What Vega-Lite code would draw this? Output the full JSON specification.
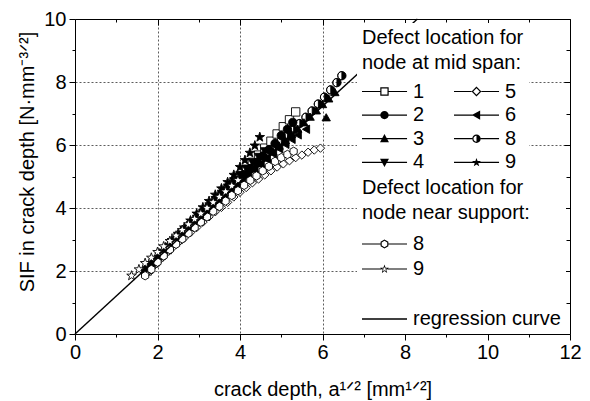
{
  "$schema": "https://vega.github.io/schema/vega-lite/v6.json",
  "width": 495,
  "height": 315,
  "autosize": {"type": "none"},
  "padding": {"left": 75, "top": 19, "right": 20, "bottom": 67},
  "background": "white",
  "config": {
    "font": "Liberation Sans",
    "view": {"stroke": null},
    "axis": {"labelFont": "Liberation Sans", "titleFont": "Liberation Sans", "domainColor": "black", "domainWidth": 1, "tickColor": "black", "tickWidth": 1}
  },
  "datasets": {
    "reg": [{"x": 0, "y": 0}, {"x": 8.3, "y": 10}],
    "sif": [
      {"s":"m1","x":1.75,"y":2.0},{"s":"m1","x":1.9,"y":2.25},{"s":"m1","x":2.05,"y":2.45},{"s":"m1","x":2.2,"y":2.65},{"s":"m1","x":2.35,"y":2.85},{"s":"m1","x":2.5,"y":3.0},{"s":"m1","x":2.65,"y":3.2},{"s":"m1","x":2.8,"y":3.4},{"s":"m1","x":2.95,"y":3.6},{"s":"m1","x":3.1,"y":3.8},{"s":"m1","x":3.25,"y":3.98},{"s":"m1","x":3.4,"y":4.18},{"s":"m1","x":3.55,"y":4.38},{"s":"m1","x":3.7,"y":4.58},{"s":"m1","x":3.85,"y":4.8},{"s":"m1","x":4.0,"y":5.0},{"s":"m1","x":4.15,"y":5.2},{"s":"m1","x":4.3,"y":5.45},{"s":"m1","x":4.45,"y":5.68},{"s":"m1","x":4.6,"y":5.9},{"s":"m1","x":4.75,"y":6.12},{"s":"m1","x":4.9,"y":6.35},{"s":"m1","x":5.05,"y":6.58},{"s":"m1","x":5.2,"y":6.8},{"s":"m1","x":5.35,"y":7.05},
      {"s":"m2","x":1.7,"y":1.95},{"s":"m2","x":1.85,"y":2.2},{"s":"m2","x":2.0,"y":2.4},{"s":"m2","x":2.15,"y":2.6},{"s":"m2","x":2.3,"y":2.78},{"s":"m2","x":2.45,"y":2.98},{"s":"m2","x":2.6,"y":3.15},{"s":"m2","x":2.75,"y":3.35},{"s":"m2","x":2.9,"y":3.52},{"s":"m2","x":3.05,"y":3.72},{"s":"m2","x":3.2,"y":3.9},{"s":"m2","x":3.35,"y":4.08},{"s":"m2","x":3.5,"y":4.28},{"s":"m2","x":3.65,"y":4.45},{"s":"m2","x":3.8,"y":4.65},{"s":"m2","x":3.95,"y":4.85},{"s":"m2","x":4.1,"y":5.05},{"s":"m2","x":4.25,"y":5.25},{"s":"m2","x":4.4,"y":5.45},{"s":"m2","x":4.55,"y":5.65},{"s":"m2","x":4.7,"y":5.85},{"s":"m2","x":4.85,"y":6.05},{"s":"m2","x":5.0,"y":6.3},{"s":"m2","x":5.15,"y":6.5},{"s":"m2","x":5.28,"y":6.72},
      {"s":"m3","x":1.8,"y":2.1},{"s":"m3","x":1.95,"y":2.3},{"s":"m3","x":2.1,"y":2.5},{"s":"m3","x":2.25,"y":2.7},{"s":"m3","x":2.4,"y":2.88},{"s":"m3","x":2.55,"y":3.05},{"s":"m3","x":2.7,"y":3.25},{"s":"m3","x":2.85,"y":3.42},{"s":"m3","x":3.0,"y":3.6},{"s":"m3","x":3.15,"y":3.78},{"s":"m3","x":3.3,"y":3.95},{"s":"m3","x":3.45,"y":4.15},{"s":"m3","x":3.6,"y":4.32},{"s":"m3","x":3.75,"y":4.5},{"s":"m3","x":3.9,"y":4.7},{"s":"m3","x":4.05,"y":4.88},{"s":"m3","x":4.2,"y":5.05},{"s":"m3","x":4.35,"y":5.25},{"s":"m3","x":4.5,"y":5.42},{"s":"m3","x":4.65,"y":5.6},{"s":"m3","x":4.8,"y":5.8},{"s":"m3","x":4.95,"y":5.98},{"s":"m3","x":5.1,"y":6.15},{"s":"m3","x":5.25,"y":6.35},{"s":"m3","x":5.4,"y":6.52},{"s":"m3","x":5.55,"y":6.72},{"s":"m3","x":5.7,"y":6.9},{"s":"m3","x":5.85,"y":7.1},{"s":"m3","x":6.0,"y":7.3},{"s":"m3","x":6.15,"y":7.48},{"s":"m3","x":6.3,"y":7.68},{"s":"m3","x":6.09,"y":6.88},
      {"s":"m4","x":1.75,"y":2.05},{"s":"m4","x":1.9,"y":2.28},{"s":"m4","x":2.05,"y":2.48},{"s":"m4","x":2.2,"y":2.7},{"s":"m4","x":2.35,"y":2.9},{"s":"m4","x":2.5,"y":3.08},{"s":"m4","x":2.65,"y":3.28},{"s":"m4","x":2.8,"y":3.46},{"s":"m4","x":2.95,"y":3.66},{"s":"m4","x":3.1,"y":3.85},{"s":"m4","x":3.25,"y":4.05},{"s":"m4","x":3.4,"y":4.25},{"s":"m4","x":3.55,"y":4.45},{"s":"m4","x":3.7,"y":4.65},{"s":"m4","x":3.85,"y":4.85},{"s":"m4","x":4.0,"y":5.05},{"s":"m4","x":4.15,"y":5.25},{"s":"m4","x":4.3,"y":5.45},{"s":"m4","x":4.45,"y":5.62},{"s":"m4","x":4.6,"y":5.8},
      {"s":"m5","x":1.75,"y":1.95},{"s":"m5","x":1.9,"y":2.15},{"s":"m5","x":2.05,"y":2.35},{"s":"m5","x":2.2,"y":2.55},{"s":"m5","x":2.35,"y":2.72},{"s":"m5","x":2.5,"y":2.9},{"s":"m5","x":2.65,"y":3.05},{"s":"m5","x":2.8,"y":3.22},{"s":"m5","x":2.95,"y":3.38},{"s":"m5","x":3.1,"y":3.55},{"s":"m5","x":3.25,"y":3.72},{"s":"m5","x":3.4,"y":3.88},{"s":"m5","x":3.55,"y":4.02},{"s":"m5","x":3.7,"y":4.18},{"s":"m5","x":3.85,"y":4.35},{"s":"m5","x":4.0,"y":4.5},{"s":"m5","x":4.15,"y":4.65},{"s":"m5","x":4.3,"y":4.8},{"s":"m5","x":4.45,"y":4.92},{"s":"m5","x":4.6,"y":5.05},{"s":"m5","x":4.75,"y":5.18},{"s":"m5","x":4.9,"y":5.3},{"s":"m5","x":5.05,"y":5.4},{"s":"m5","x":5.2,"y":5.5},{"s":"m5","x":5.35,"y":5.6},{"s":"m5","x":5.5,"y":5.68},{"s":"m5","x":5.65,"y":5.77},{"s":"m5","x":5.8,"y":5.84},{"s":"m5","x":5.95,"y":5.9},
      {"s":"m6","x":1.8,"y":2.05},{"s":"m6","x":1.95,"y":2.28},{"s":"m6","x":2.1,"y":2.5},{"s":"m6","x":2.25,"y":2.68},{"s":"m6","x":2.4,"y":2.88},{"s":"m6","x":2.55,"y":3.05},{"s":"m6","x":2.7,"y":3.25},{"s":"m6","x":2.85,"y":3.42},{"s":"m6","x":3.0,"y":3.6},{"s":"m6","x":3.15,"y":3.78},{"s":"m6","x":3.3,"y":3.98},{"s":"m6","x":3.45,"y":4.15},{"s":"m6","x":3.6,"y":4.35},{"s":"m6","x":3.75,"y":4.52},{"s":"m6","x":3.9,"y":4.7},{"s":"m6","x":4.05,"y":4.88},{"s":"m6","x":4.2,"y":5.05},{"s":"m6","x":4.35,"y":5.22},{"s":"m6","x":4.5,"y":5.4},{"s":"m6","x":4.65,"y":5.55},{"s":"m6","x":4.8,"y":5.72},{"s":"m6","x":4.95,"y":5.88},{"s":"m6","x":5.1,"y":6.02},{"s":"m6","x":5.25,"y":6.18},{"s":"m6","x":5.4,"y":6.32},{"s":"m6","x":5.6,"y":6.5},
      {"s":"m8","x":1.85,"y":2.15},{"s":"m8","x":2.0,"y":2.38},{"s":"m8","x":2.15,"y":2.58},{"s":"m8","x":2.3,"y":2.78},{"s":"m8","x":2.45,"y":2.98},{"s":"m8","x":2.6,"y":3.15},{"s":"m8","x":2.75,"y":3.35},{"s":"m8","x":2.9,"y":3.55},{"s":"m8","x":3.05,"y":3.72},{"s":"m8","x":3.2,"y":3.92},{"s":"m8","x":3.35,"y":4.1},{"s":"m8","x":3.5,"y":4.3},{"s":"m8","x":3.65,"y":4.48},{"s":"m8","x":3.8,"y":4.68},{"s":"m8","x":3.95,"y":4.88},{"s":"m8","x":4.1,"y":5.05},{"s":"m8","x":4.25,"y":5.25},{"s":"m8","x":4.4,"y":5.42},{"s":"m8","x":4.55,"y":5.6},{"s":"m8","x":4.7,"y":5.78},{"s":"m8","x":4.85,"y":5.95},{"s":"m8","x":5.0,"y":6.12},{"s":"m8","x":5.15,"y":6.3},{"s":"m8","x":5.3,"y":6.48},{"s":"m8","x":5.45,"y":6.68},{"s":"m8","x":5.6,"y":6.88},{"s":"m8","x":5.75,"y":7.08},{"s":"m8","x":5.9,"y":7.3},{"s":"m8","x":6.05,"y":7.52},{"s":"m8","x":6.2,"y":7.75},{"s":"m8","x":6.35,"y":7.98},{"s":"m8","x":6.47,"y":8.2},
      {"s":"m9","x":1.75,"y":2.05},{"s":"m9","x":1.9,"y":2.3},{"s":"m9","x":2.05,"y":2.55},{"s":"m9","x":2.2,"y":2.75},{"s":"m9","x":2.35,"y":2.98},{"s":"m9","x":2.5,"y":3.18},{"s":"m9","x":2.65,"y":3.38},{"s":"m9","x":2.8,"y":3.6},{"s":"m9","x":2.95,"y":3.82},{"s":"m9","x":3.1,"y":4.02},{"s":"m9","x":3.25,"y":4.22},{"s":"m9","x":3.4,"y":4.42},{"s":"m9","x":3.55,"y":4.62},{"s":"m9","x":3.7,"y":4.82},{"s":"m9","x":3.85,"y":5.05},{"s":"m9","x":4.0,"y":5.3},{"s":"m9","x":4.12,"y":5.52},{"s":"m9","x":4.24,"y":5.75},{"s":"m9","x":4.36,"y":5.98},{"s":"m9","x":4.48,"y":6.25},
      {"s":"n8","x":1.7,"y":1.85},{"s":"n8","x":1.85,"y":2.05},{"s":"n8","x":2.0,"y":2.28},{"s":"n8","x":2.15,"y":2.48},{"s":"n8","x":2.3,"y":2.68},{"s":"n8","x":2.45,"y":2.85},{"s":"n8","x":2.6,"y":3.02},{"s":"n8","x":2.75,"y":3.2},{"s":"n8","x":2.9,"y":3.38},{"s":"n8","x":3.05,"y":3.55},{"s":"n8","x":3.2,"y":3.72},{"s":"n8","x":3.35,"y":3.9},{"s":"n8","x":3.5,"y":4.05},{"s":"n8","x":3.65,"y":4.22},{"s":"n8","x":3.8,"y":4.4},{"s":"n8","x":3.95,"y":4.55},{"s":"n8","x":4.1,"y":4.72},{"s":"n8","x":4.25,"y":4.88},{"s":"n8","x":4.4,"y":5.02},{"s":"n8","x":4.55,"y":5.18},{"s":"n8","x":4.7,"y":5.32},{"s":"n8","x":4.85,"y":5.48},{"s":"n8","x":5.0,"y":5.6},{"s":"n8","x":5.15,"y":5.7},{"s":"n8","x":5.3,"y":5.8},
      {"s":"n9","x":1.37,"y":1.85},{"s":"n9","x":1.55,"y":2.05},{"s":"n9","x":1.7,"y":2.25},{"s":"n9","x":1.85,"y":2.42},{"s":"n9","x":2.0,"y":2.6},{"s":"n9","x":2.15,"y":2.78},{"s":"n9","x":2.3,"y":2.95},{"s":"n9","x":2.45,"y":3.12},{"s":"n9","x":2.6,"y":3.3},{"s":"n9","x":2.75,"y":3.48},{"s":"n9","x":2.9,"y":3.65},{"s":"n9","x":3.05,"y":3.82},{"s":"n9","x":3.2,"y":4.0},{"s":"n9","x":3.35,"y":4.18},{"s":"n9","x":3.5,"y":4.35},{"s":"n9","x":3.65,"y":4.52},{"s":"n9","x":3.8,"y":4.7},{"s":"n9","x":3.95,"y":4.88}
    ]
  },
  "layer": [
    {
      "data": {"name": "sif"},
      "mark": {"type": "point", "filled": true, "stroke": "black", "strokeWidth": 0.9, "size": 70, "opacity": 1},
      "encoding": {
        "x": {"field": "x", "type": "quantitative", "scale": {"domain": [0, 12], "nice": false},
          "axis": {"orient": "bottom", "values": [0,1,2,3,4,5,6,7,8,9,10,11,12],
            "labelExpr": "datum.value % 2 == 0 ? datum.label : ''",
            "tickSize": {"condition": {"test": "datum.value % 2 == 1", "value": 3}, "value": 6},
            "grid": true, "gridColor": "#333", "gridDash": [2, 2], "gridWidth": 0.8,
            "gridOpacity": {"condition": {"test": "datum.value % 2 == 1 || datum.value == 0 || datum.value == 12", "value": 0}, "value": 1},
            "labelFontSize": 20, "labelColor": "black", "labelPadding": 2, "labelFlush": false, "labelOverlap": false,
            "title": "crack depth, a¹ᐟ² [mm¹ᐟ²]", "titleFontSize": 20, "titleFontWeight": "normal", "titleColor": "black",
            "titleBaseline": "alphabetic", "titleY": 61}},
        "y": {"field": "y", "type": "quantitative", "scale": {"domain": [0, 10], "nice": false},
          "axis": {"orient": "left", "values": [0,1,2,3,4,5,6,7,8,9,10],
            "labelExpr": "datum.value % 2 == 0 ? datum.label : ''",
            "tickSize": {"condition": {"test": "datum.value % 2 == 1", "value": 3}, "value": 6},
            "grid": true, "gridColor": "#333", "gridDash": [2, 2], "gridWidth": 0.8,
            "gridOpacity": {"condition": {"test": "datum.value % 2 == 1 || datum.value == 0 || datum.value == 10", "value": 0}, "value": 1},
            "labelFontSize": 20, "labelColor": "black", "labelPadding": 3, "labelFlush": false, "labelOverlap": false,
            "title": "SIF in crack depth [N·mm⁻³ᐟ²]", "titleFontSize": 20, "titleFontWeight": "normal", "titleColor": "black",
            "titleBaseline": "alphabetic", "titleX": -41.5, "titleY": 142.5}},
        "shape": {"field": "s", "type": "nominal", "legend": null,
          "scale": {"domain": ["m1","m2","m3","m4","m5","m6","m8","m9","n8","n9"],
            "range": ["square","circle","triangle-up","triangle-down","diamond","triangle-left",
              "M0,-1A1,1 0 0,1 0,1A1,1 0 0,1 0,-1ZM0,-1A1,1 0 0,0 0,1Z",
              "M0,-1.2L0.28,-0.39L1.14,-0.37L0.46,0.15L0.71,0.97L0,0.48L-0.71,0.97L-0.46,0.15L-1.14,-0.37L-0.28,-0.39Z",
              "M0,-1L0.866,-0.5L0.866,0.5L0,1L-0.866,0.5L-0.866,-0.5Z",
              "M0,-1.2L0.28,-0.39L1.14,-0.37L0.46,0.15L0.71,0.97L0,0.48L-0.71,0.97L-0.46,0.15L-1.14,-0.37L-0.28,-0.39Z"]}},
        "fill": {"field": "s", "type": "nominal", "legend": null,
          "scale": {"domain": ["m1","m2","m3","m4","m5","m6","m8","m9","n8","n9"],
            "range": ["white","black","black","black","white","black","black","black","white","white"]}}
      }
    },
    {
      "data": {"name": "reg"},
      "mark": {"type": "line", "color": "black", "strokeWidth": 1.4},
      "encoding": {
        "x": {"field": "x", "type": "quantitative", "scale": {"domain": [0, 12], "nice": false},
          "axis": {"orient": "top", "values": [0,1,2,3,4,5,6,7,8,9,10,11,12], "labels": false, "grid": false, "title": null,
            "tickSize": {"condition": {"test": "datum.value % 2 == 1", "value": -3}, "value": -6}}},
        "y": {"field": "y", "type": "quantitative", "scale": {"domain": [0, 10], "nice": false},
          "axis": {"orient": "right", "values": [0,1,2,3,4,5,6,7,8,9,10], "labels": false, "grid": false, "title": null,
            "tickSize": {"condition": {"test": "datum.value % 2 == 1", "value": -4}, "value": -6}}}
      }
    },
    {
      "data": {"name": "sif"},
      "transform": [{"filter": "false"}],
      "mark": {"type": "point", "filled": true, "fill": "black", "opacity": 1},
      "encoding": {
        "shape": {"field": "s", "type": "nominal",
          "scale": {"domain": ["m1","m2","m3","m4","m5","m6","m8","m9"],
            "range": [
              "M-1.25,-0.075H1.035V0.075H-1.25ZM2.085,-0.075H4.38V0.075H2.085ZM1.035,-0.525H2.085V0.525H1.035ZM1.185,-0.375V0.375H1.935V-0.375Z",
              "M-1.25,-0.075H4.38V0.075H-1.25ZM1.035,0A0.525,0.525 0 1,1 2.085,0A0.525,0.525 0 1,1 1.035,0Z",
              "M-1.25,-0.075H4.38V0.075H-1.25ZM1.56,-0.6L2.12,0.45H1.0Z",
              "M-1.25,-0.075H4.38V0.075H-1.25ZM1.56,0.6L1.0,-0.45H2.12Z",
              "M-1.25,-0.075H0.944V0.075H-1.25ZM2.176,-0.075H4.38V0.075H2.176ZM1.56,-0.616L2.176,0L1.56,0.616L0.944,0ZM1.56,-0.404L1.156,0L1.56,0.404L1.964,0Z",
              "M-1.25,-0.075H4.38V0.075H-1.25ZM0.98,0L2.02,-0.58V0.58Z",
              "M-1.25,-0.075H1.035V0.075H-1.25ZM2.085,-0.075H4.38V0.075H2.085ZM1.56,-0.525A0.525,0.525 0 0,1 1.56,0.525A0.525,0.525 0 0,1 1.56,-0.525ZM1.56,-0.375A0.375,0.375 0 0,0 1.56,0.375Z",
              "M-1.25,-0.075H4.38V0.075H-1.25ZM1.56,-0.55L1.696,-0.158L2.112,-0.149L1.78,0.102L1.901,0.499L1.56,0.262L1.219,0.499L1.34,0.102L1.008,-0.149L1.424,-0.158Z"]},
          "legend": {"orient": "none", "legendX": 282, "legendY": 4,
            "title": ["Defect location for", "node at mid span:"],
            "titleFont": "Liberation Sans", "titleFontSize": 20, "titleFontWeight": "normal", "titleColor": "black",
            "titleLineHeight": 25, "titlePadding": 8.5, "titleLimit": 400, "titleAnchor": "start", "titleAlign": "left",
            "labelFont": "Liberation Sans", "labelFontSize": 20, "labelColor": "black", "labelOffset": 31, "labelLimit": 400,
            "labelExpr": "replace(datum.value, regexp('[a-z]+', 'g'), '')",
            "symbolSize": 256, "symbolStrokeWidth": 0, "symbolFillColor": "black", "symbolOpacity": 1,
            "columns": 2, "columnPadding": 29, "rowPadding": 3.6,
            "fillColor": "white", "padding": 5}}
      }
    },
    {
      "data": {"name": "sif"},
      "transform": [{"filter": "false"}],
      "mark": {"type": "point", "filled": true, "fill": "black", "opacity": 1},
      "encoding": {
        "shape": {"field": "s", "type": "nominal",
          "scale": {"domain": ["n8","n9","gap","reg"],
            "range": [
              "M-1.25,-0.075H1.075V0.075H-1.25ZM2.045,-0.075H4.38V0.075H2.045ZM1.56,-0.56L2.045,-0.28V0.28L1.56,0.56L1.075,0.28V-0.28ZM1.56,-0.4L1.214,-0.2V0.2L1.56,0.4L1.906,0.2V-0.2Z",
              "M-1.25,-0.075H1.2V0.075H-1.25ZM1.92,-0.075H4.38V0.075H1.92ZM1.56,-0.55L1.696,-0.158L2.112,-0.149L1.78,0.102L1.901,0.499L1.56,0.262L1.219,0.499L1.34,0.102L1.008,-0.149L1.424,-0.158ZM1.56,-0.29L1.485,-0.074L1.256,-0.069L1.438,0.07L1.372,0.289L1.56,0.158L1.748,0.289L1.682,0.07L1.864,-0.069L1.635,-0.074Z",
              "M0,0",
              "M-1.25,-0.09H4.38V0.09H-1.25Z"]},
          "legend": {"orient": "none", "legendX": 282, "legendY": 154,
            "title": ["Defect location for", "node near support:"],
            "titleFont": "Liberation Sans", "titleFontSize": 20, "titleFontWeight": "normal", "titleColor": "black",
            "titleLineHeight": 25, "titlePadding": 11, "titleLimit": 400, "titleAnchor": "start", "titleAlign": "left",
            "labelFont": "Liberation Sans", "labelFontSize": 20, "labelColor": "black", "labelOffset": 31, "labelLimit": 400,
            "labelExpr": "datum.value == 'reg' ? 'regression curve' : replace(datum.value, regexp('[a-z]+', 'g'), '')",
            "symbolSize": 256, "symbolStrokeWidth": 0, "symbolFillColor": "black", "symbolOpacity": 1,
            "columns": 1, "rowPadding": 5,
            "fillColor": "white", "padding": 5}}
      }
    }
  ],
  "resolve": {
    "scale": {"shape": "independent", "fill": "independent"},
    "axis": {"x": "independent", "y": "independent"},
    "legend": {"shape": "independent"}
  }
}
